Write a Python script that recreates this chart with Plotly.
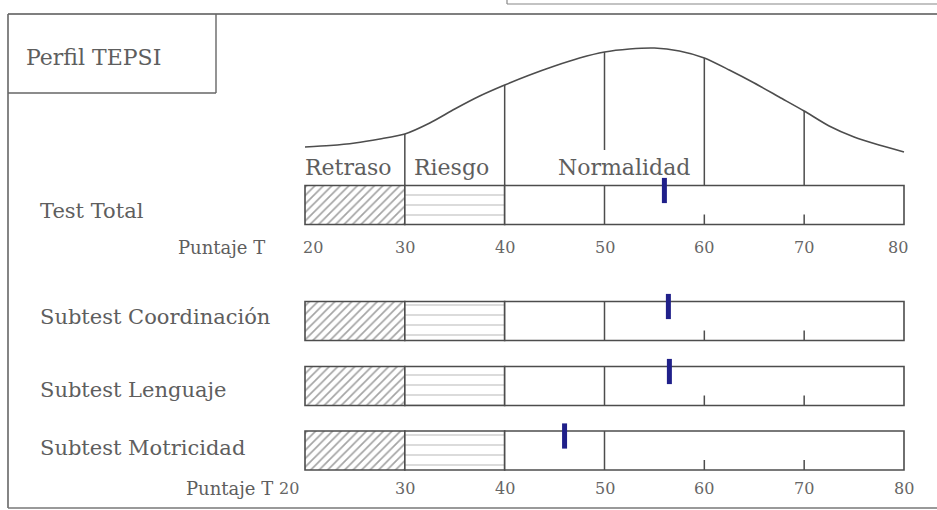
import plotly.graph_objects as go

# ---------------- data ----------------
rows = ["Test Total", "Subtest Coordinación", "Subtest Lenguaje", "Subtest Motricidad"]
scores = [56, 56.4, 56.5, 46]                      # hand-made marks (Puntaje T)
zone_names = ["Retraso", "Riesgo", "Normalidad"]
zone_start = [20, 30, 40]
zone_end = [30, 40, 80]
tick_values = [20, 30, 40, 50, 60, 70, 80]
tick_labels = ["20", "30", "40", "50", "60", "70", "80"]
curve_x = [20, 22.5, 25, 27.5, 30, 32.5, 35, 37.5, 40, 42.5, 45, 47.5, 50,
           52.5, 55, 57.5, 60, 62.5, 65, 67.5, 70, 72.5, 75, 77.5, 80]
curve_y = [147, 145.5, 143, 139, 134, 123, 109, 96, 85, 75, 66, 58, 52,
           49, 48, 51, 58, 70, 83, 97, 111, 126, 137, 145, 152]   # vertical position of the bell curve
score_axis_title = "Puntaje T"
chart_title = "Perfil TEPSI"

# ---------------- layout constants ----------------
W, H = 937, 510
ROW_CENTER = [205, 321, 386, 450.5]
BAR_H = 39
LABEL_Y = [211, 317, 390, 448]
ZONE_LABEL_X = [24.4, 34.7, 52.0]
ZONE_LABEL_Y = 167
TICK_ROW_Y = [247, 488]
INK = "#4d4d4d"
TXT = "#5e5e5e"
FONT = "DejaVu Serif"
PEN = "#20208a"

fig = go.Figure()

styles = [
    dict(color="white", pattern=dict(shape="/", fgcolor="#4a4a4a", bgcolor="white", size=6, solidity=0.28)),
    dict(color="white", pattern=dict(shape="-", fgcolor="#6f6f6f", bgcolor="white", size=10, solidity=0.1)),
    dict(color="white"),
]
for i, name in enumerate(zone_names):
    fig.add_trace(go.Bar(
        orientation="h",
        y=ROW_CENTER,
        x=[zone_end[i] - zone_start[i]] * len(rows),
        base=[zone_start[i]] * len(rows),
        width=BAR_H,
        marker=dict(line=dict(color=INK, width=1.6), **styles[i]),
        name=name,
        hoverinfo="skip",
    ))

# bell curve
fig.add_trace(go.Scatter(x=curve_x, y=curve_y, mode="lines",
                         line=dict(color=INK, width=1.6, shape="spline", smoothing=0.7),
                         hoverinfo="skip"))

# vertical lines from curve down to Test Total bar
top_bar = ROW_CENTER[0] - BAR_H / 2
vx, vy = [], []
for v in tick_values[1:-1]:
    cy = curve_y[curve_x.index(v)]
    end = 150 if v == 50 else top_bar
    vx += [v, v, None]
    vy += [cy, end, None]
# inside every bar: full line at 50, short ticks at 60 and 70
for c in ROW_CENTER:
    t, b = c - BAR_H / 2, c + BAR_H / 2
    vx += [50, 50, None]
    vy += [t, b, None]
    for v in (60, 70):
        vx += [v, v, None]
        vy += [b, b - 10, None]
fig.add_trace(go.Scatter(x=vx, y=vy, mode="lines", line=dict(color=INK, width=1.5), hoverinfo="skip"))

# pen marks
fig.add_trace(go.Scatter(
    x=scores, y=[c - BAR_H / 2 + 5 for c in ROW_CENTER], mode="markers",
    marker=dict(symbol="line-ns", size=18, line=dict(color=PEN, width=5)),
    hoverinfo="skip"))

ann = []
for lab, y in zip(rows, LABEL_Y):
    ann.append(dict(x=-6.75, y=y, text=lab, xanchor="left", yanchor="middle", showarrow=False,
                    font=dict(family=FONT, size=21, color=TXT)))
for lab, x in zip(zone_names, ZONE_LABEL_X):
    ann.append(dict(x=x, y=ZONE_LABEL_Y, text=lab, xanchor="center", yanchor="middle", showarrow=False,
                    font=dict(family=FONT, size=22, color=TXT)))
shifts = [[8, 0, 0, 0, 0, 0, -6], [-16, 0, 0, 0, 0, 0, 0]]
for r, y in enumerate(TICK_ROW_Y):
    for j, (v, t) in enumerate(zip(tick_values, tick_labels)):
        ann.append(dict(x=v, y=y, text=t, xanchor="center", yanchor="middle", showarrow=False, xshift=shifts[r][j],
                        font=dict(family=FONT, size=16, color="#666666")))
ann.append(dict(x=16.2, y=TICK_ROW_Y[0], text=score_axis_title, xanchor="right", yanchor="middle", showarrow=False,
                font=dict(family=FONT, size=18, color=TXT)))
ann.append(dict(x=17.0, y=TICK_ROW_Y[1], text=score_axis_title, xanchor="right", yanchor="middle", showarrow=False,
                font=dict(family=FONT, size=18, color=TXT)))
ann.append(dict(x=24 / W, y=1 - 57 / H, xref="paper", yref="paper", text=chart_title, xanchor="left", yanchor="middle",
                showarrow=False, font=dict(family=FONT, size=22, color=TXT)))


def px(x):
    return x / W


def py(y):
    return 1 - y / H


shapes = [
    dict(type="line", xref="paper", yref="paper", x0=px(8), x1=px(W), y0=py(14), y1=py(14), line=dict(color="#555", width=1.6)),
    dict(type="line", xref="paper", yref="paper", x0=px(8), x1=px(8), y0=py(14), y1=py(508), line=dict(color="#666", width=1.6)),
    dict(type="line", xref="paper", yref="paper", x0=px(8), x1=px(W), y0=py(508), y1=py(508), line=dict(color="#777", width=1.4)),
    dict(type="line", xref="paper", yref="paper", x0=px(216), x1=px(216), y0=py(14), y1=py(93), line=dict(color="#666", width=1.4)),
    dict(type="line", xref="paper", yref="paper", x0=px(8), x1=px(216), y0=py(93), y1=py(93), line=dict(color="#666", width=1.4)),
    dict(type="line", xref="paper", yref="paper", x0=px(507), x1=px(W), y0=py(4), y1=py(4), line=dict(color="#888", width=1.2)),
    dict(type="line", xref="paper", yref="paper", x0=px(507), x1=px(507), y0=py(0), y1=py(4), line=dict(color="#888", width=1.2)),
]

k = 599 / 60.0
fig.update_layout(
    width=W, height=H, margin=dict(l=0, r=0, t=0, b=0),
    paper_bgcolor="white", plot_bgcolor="white", showlegend=False, barmode="overlay",
    xaxis=dict(range=[20 - 305 / k, 20 + (W - 305) / k], visible=False, fixedrange=True),
    yaxis=dict(range=[H, 0], visible=False, fixedrange=True),
    annotations=ann, shapes=shapes,
)

fig.write_html("out.html", config={"displayModeBar": False},
               post_script="document.body.style.margin='0';document.body.style.overflow='hidden';")
